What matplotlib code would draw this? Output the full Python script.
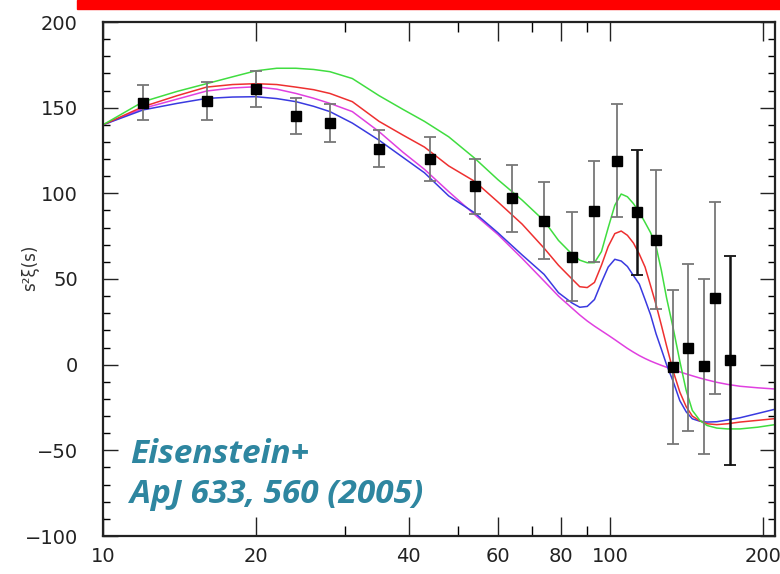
import matplotlib
matplotlib.use("Agg")
import matplotlib.pyplot as plt
from matplotlib.patches import Rectangle
from matplotlib.ticker import FixedLocator, NullFormatter

# ---- data points (s, s^2 xi(s), error) ----
s_data = [12, 16, 20, 24, 28, 35, 44, 54, 64, 74, 84, 93, 103, 113, 123, 133, 142, 153, 161, 172]
xi_data = [153, 154, 161, 145, 141, 126, 120, 104, 97, 84, 63, 89.5, 119, 89, 73, -1.5, 10, -1, 39, 2.5]
err_data = [10, 11, 10.5, 10.5, 11, 10.7, 12.6, 16, 19.5, 22.6, 26, 29.5, 33, 36.5, 40.5, 44.8, 49, 51, 56, 61]
err_dark = [False, False, False, False, False, False, False, False, False, False,
            False, False, False, True, False, False, False, False, False, True]

# ---- model curves ----
s_model = [10, 12, 14, 16, 18, 20, 22, 24, 26, 28, 31, 35, 39, 43, 48, 54, 60, 67, 74, 79,
           84, 87, 90, 93, 96, 99, 102, 105, 108, 111, 114, 117, 120, 123, 126, 129, 133,
           137, 141, 145, 150, 155, 162, 170, 180, 195, 211]
green = [140, 153.5, 159.5, 164, 168, 171.5, 173, 173, 172.3, 171, 167, 157, 149, 142, 133,
         120.5, 108, 96, 84, 72.5, 64.5, 61, 59.5, 59.5, 66, 80, 93, 99.6, 98, 94, 89, 83,
         77, 69, 55, 39, 21, 2, -15, -26.7, -32.5, -35.5, -37, -37.5, -37.5, -36.5, -35]
red = [140, 150.6, 157, 162, 163.5, 164, 163.5, 162, 160.5, 158.3, 153.5, 142, 134, 127, 116,
       107, 95, 82, 68, 58, 50, 45.5, 45, 48, 58, 69, 76.5, 78, 75.5, 71, 64.5, 57, 46, 35,
       23, 11, -4, -16, -24.5, -30, -32.8, -34.5, -35, -34.5, -33.5, -32.5, -31.5]
blue = [140, 148.7, 152.5, 155.4, 156.2, 156.4, 155.3, 153.5, 150.8, 147.7, 141, 131, 121,
        112, 98.5, 88.6, 77, 64, 52.7, 42, 36, 33.5, 34, 38, 48, 57, 61.5, 60.5, 57.3, 52,
        47, 38, 29, 18, 9, 0, -10, -21, -27.5, -31.6, -33, -33.5, -33.3, -32.3, -31, -28.5, -26]
magenta = [140, 149.6, 155, 159.7, 161.5, 162.2, 160.8, 158.3, 155.5, 152.5, 147.7, 136, 124,
           114, 101, 87.6, 76, 62, 48.8, 40, 33, 29, 25.5, 22.5, 19.8, 17.2, 14.6, 12, 9.5,
           7.3, 5.3, 3.6, 2.1, 0.8, -0.4, -1.5, -2.9, -4.2, -5.4, -6.5, -7.8, -8.9, -10.3,
           -11.5, -12.6, -13.5, -14.2]

x_major = [10, 20, 40, 60, 80, 100, 200]
x_minor = [30, 50, 70, 90]
x_labels = ["10", "20", "40", "60", "80", "100", "200"]
y_major = [-100, -50, 0, 50, 100, 150, 200]
y_minor = [v for v in range(-100, 201, 10)]

fig = plt.figure(figsize=(7.8, 5.74), dpi=100)
ax = fig.add_axes([103 / 780, 38 / 574, 672 / 780, 514 / 574])

ax.plot(s_model, magenta, color="#e040e0", lw=1.1)
ax.plot(s_model, blue, color="#3a3ae0", lw=1.1)
ax.plot(s_model, red, color="#ee3030", lw=1.1)
ax.plot(s_model, green, color="#40dd40", lw=1.1)

for s, v, e, dark in zip(s_data, xi_data, err_data, err_dark):
    ax.errorbar([s], [v], yerr=[e], fmt="none", ecolor="#111111" if dark else "#777777",
                elinewidth=1.8 if dark else 1.3, capsize=4.5, capthick=1.3)
ax.plot(s_data, xi_data, "s", color="black", markersize=6.8, zorder=5)

ax.set_xscale("log")
ax.set_xlim(10, 211)
ax.set_ylim(-100, 200)
ax.xaxis.set_major_locator(FixedLocator(x_major))
ax.xaxis.set_minor_locator(FixedLocator(x_minor))
ax.set_xticklabels(x_labels)
ax.xaxis.set_minor_formatter(NullFormatter())
ax.yaxis.set_major_locator(FixedLocator(y_major))
ax.yaxis.set_minor_locator(FixedLocator(y_minor))

ax.tick_params(axis="x", which="major", direction="in", length=14, width=1.0,
               top=True, bottom=True, labelsize=14, pad=8, colors="#222222")
ax.tick_params(axis="x", which="minor", direction="in", length=7, width=1.0,
               top=True, bottom=True)
ax.tick_params(axis="y", which="major", direction="in", length=11, width=1.0,
               left=True, right=True, labelsize=14, pad=18, colors="#222222")
ax.tick_params(axis="y", which="minor", direction="in", length=5, width=1.0,
               left=True, right=True)
for sp in ax.spines.values():
    sp.set_linewidth(1.6)
    sp.set_color("#222222")

fig.text(30 / 780, 1 - 268 / 574, "s²ξ(s)", rotation=90, ha="center", va="center",
         fontsize=12, color="#333333")

fig.text(130 / 780, 1 - 463 / 574, "Eisenstein+", fontsize=24, fontweight="bold",
         fontstyle="italic", family="Open Sans", color="#2e86a0", va="baseline", ha="left")
fig.text(130 / 780, 1 - 503 / 574, "ApJ 633, 560 (2005)", fontsize=24, fontweight="bold",
         fontstyle="italic", family="Open Sans", color="#2e86a0", va="baseline", ha="left")

fig.patches.append(Rectangle((77 / 780, 1 - 9 / 574), 1, 9 / 574, transform=fig.transFigure,
                             color="#ff0000", zorder=10))

fig.savefig("out.png", dpi=100)
